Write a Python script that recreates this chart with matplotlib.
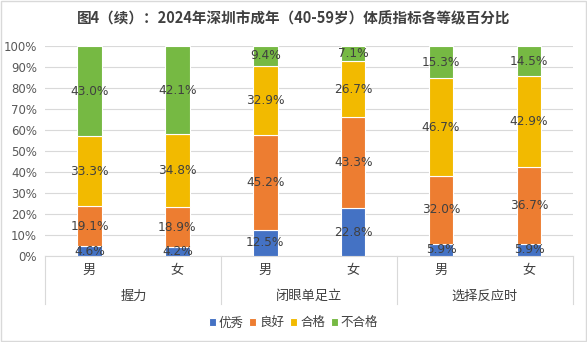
import numpy as np
import matplotlib
matplotlib.use("Agg")
import matplotlib.pyplot as plt
from matplotlib.patches import Rectangle
from matplotlib.lines import Line2D

plt.rcParams["font.family"] = ["Noto Sans CJK SC", "DejaVu Sans"]

groups = ["握力", "闭眼单足立", "选择反应时"]
sexes = ["男", "女", "男", "女", "男", "女"]
levels = ["优秀", "良好", "合格", "不合格"]
excellent = [4.6, 4.2, 12.5, 22.8, 5.9, 5.9]
good = [19.1, 18.9, 45.2, 43.3, 32.0, 36.7]
passed = [33.3, 34.8, 32.9, 26.7, 46.7, 42.9]
failed = [43.0, 42.1, 9.4, 7.1, 15.3, 14.5]
colors = ["#4472C4", "#ED7D31", "#F2BA00", "#76B943"]
yticks = [0, 10, 20, 30, 40, 50, 60, 70, 80, 90, 100]

TXT = "#404040"
GRID = "#D9D9D9"

fig = plt.figure(figsize=(5.87, 3.42), dpi=100)
fig.patches.append(Rectangle((0.002, 0.003), 0.996, 0.994, transform=fig.transFigure,
                             fill=False, edgecolor=GRID, lw=1.0))
ax = fig.add_axes([0.0775, 0.2515, 0.8985, 0.614])

x = np.arange(len(sexes))
series = [excellent, good, passed, failed]
bottom = np.zeros(len(x))
for name, vals, col in zip(levels, series, colors):
    vals = np.array(vals)
    ax.bar(x, vals, 0.28, bottom=bottom, color=col, edgecolor="white", lw=0.8,
           label=name, zorder=3)
    for xi, b, v in zip(x, bottom, vals):
        ax.text(xi, b + v / 2, f"{v:.1f}%", ha="center", va="center",
                fontsize=8.7, color=TXT, zorder=4, family=["DejaVu Sans"])
    bottom += vals

ax.set_xlim(-0.5, len(x) - 0.5)
ax.set_ylim(0, 100)
ax.set_yticks(yticks)
ax.set_yticklabels([f"{t}%" for t in yticks], fontsize=8.5, color="#595959",
                   family=["DejaVu Sans"])
ax.yaxis.grid(True, color=GRID, lw=0.8, zorder=0)
ax.tick_params(axis="y", length=0, pad=6)
for s in ["left", "right", "top"]:
    ax.spines[s].set_visible(False)
ax.spines["bottom"].set_color(GRID)

ax.set_xticks(x)
ax.set_xticklabels(sexes, fontsize=9.5, color=TXT)
ax.tick_params(axis="x", length=0, pad=6)

# second level of the category axis: group names and box dividers
trans = ax.get_xaxis_transform()
for i, g in enumerate(groups):
    ax.text(2 * i + 0.5, -0.19, g, transform=trans, ha="center", va="center",
            fontsize=9.5, color=TXT)
for b in np.arange(len(groups) + 1) * 2 - 0.5:
    ax.add_line(Line2D([b, b], [0, -0.23], transform=trans, color=GRID, lw=0.8,
                       clip_on=False))

fig.legend(*ax.get_legend_handles_labels(), loc="center",
           bbox_to_anchor=(0.5, 0.056), bbox_transform=fig.transFigure, ncol=4,
           frameon=False, fontsize=9, handlelength=0.55, handleheight=0.55,
           handletextpad=0.25, columnspacing=0.45, labelcolor=TXT)

fig.text(0.5, 0.947, "图4（续）：2024年深圳市成年（40-59岁）体质指标各等级百分比",
         ha="center", va="center", fontsize=10.5, fontweight="bold", color=TXT)

fig.savefig("out.png", dpi=100)
